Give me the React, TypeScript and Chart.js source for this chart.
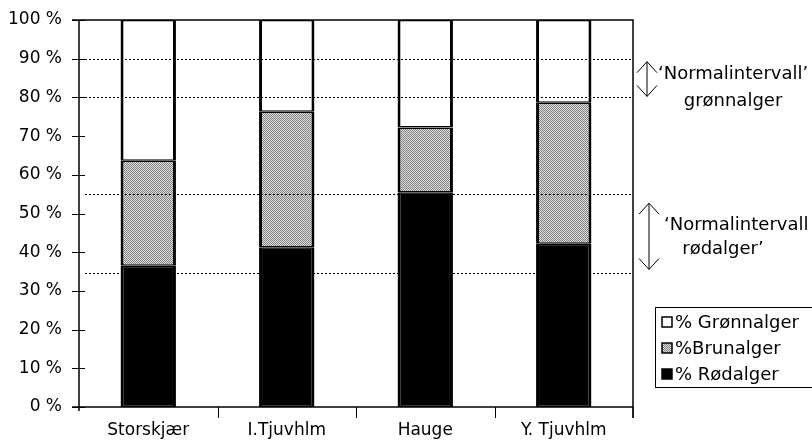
import React, { useEffect, useRef } from "react";
import { Chart, registerables } from "chart.js";

Chart.register(...registerables);

const categories = ["Storskjær", "I.Tjuvhlm", "Hauge", "Y. Tjuvhlm"];
const rodalger = [36.5, 41.3, 55.5, 42.2];
const brunalger = [27.1, 35.0, 16.7, 36.4];
const gronnalger = [36.4, 23.7, 27.8, 21.4];
const seriesLabels = ["% Grønnalger", "%Brunalger", "% Rødalger"];
const yMin = 0;
const yMax = 100;
const yStep = 10;
const normalGreen = [80, 90];
const normalRed = [34.5, 55];
const annotGreen = ["\u2018Normalintervall\u2019", "grønnalger"];
const annotRed = ["\u2018Normalintervall", "rødalger\u2019"];

const FONT = "'DejaVu Sans', sans-serif";

function makePattern(): CanvasPattern | string {
  const c = document.createElement("canvas");
  c.width = 2;
  c.height = 2;
  const g = c.getContext("2d");
  if (!g) return "#aaaaaa";
  g.fillStyle = "#e0e0e0";
  g.fillRect(0, 0, 2, 2);
  g.fillStyle = "#808080";
  g.fillRect(0, 0, 1, 1);
  g.fillRect(1, 1, 1, 1);
  const p = g.createPattern(c, "repeat");
  return p || "#aaaaaa";
}

function arrow(ctx: CanvasRenderingContext2D, x: number, y1: number, y2: number) {
  ctx.beginPath();
  ctx.moveTo(x, y1);
  ctx.lineTo(x, y2);
  ctx.moveTo(x - 10, y1 + 11);
  ctx.lineTo(x, y1);
  ctx.lineTo(x + 10, y1 + 11);
  ctx.moveTo(x - 10, y2 - 11);
  ctx.lineTo(x, y2);
  ctx.lineTo(x + 10, y2 - 11);
  ctx.stroke();
}

export default function App() {
  const ref = useRef<HTMLCanvasElement | null>(null);

  useEffect(() => {
    document.body.style.margin = "0";
    const canvas = ref.current;
    if (!canvas) return;
    const brownFill = makePattern();

    const decor = {
      id: "decor",
      afterDatasetsDraw(chart: any) {
        const ctx = chart.ctx as CanvasRenderingContext2D;
        const { left, right, top, bottom } = chart.chartArea;
        const ys = chart.scales.y;
        const xs = chart.scales.x;
        ctx.save();
        ctx.strokeStyle = "#000";
        ctx.lineWidth = 1;
        ctx.setLineDash([2, 2]);
        [...normalGreen, ...normalRed].forEach((v) => {
          const y = Math.round(ys.getPixelForValue(v)) + 0.5;
          ctx.beginPath();
          ctx.moveTo(left + 6, y);
          ctx.lineTo(right, y);
          ctx.stroke();
        });
        ctx.setLineDash([]);
        ctx.lineWidth = 1.5;
        ctx.beginPath();
        ctx.moveTo(left - 7, top);
        ctx.lineTo(right, top);
        ctx.lineTo(right, bottom + 11);
        ctx.stroke();
        ctx.beginPath();
        ctx.moveTo(left, top);
        ctx.lineTo(left, bottom + 4);
        ctx.moveTo(left - 7, bottom);
        ctx.lineTo(right, bottom);
        ctx.stroke();
        ctx.lineWidth = 1;
        for (let v = yMin; v <= yMax; v += yStep) {
          const y = Math.round(ys.getPixelForValue(v)) + 0.5;
          ctx.beginPath();
          ctx.moveTo(left - 7, y);
          ctx.lineTo(left + 6, y);
          ctx.stroke();
        }
        const n = categories.length;
        for (let i = 1; i <= n; i++) {
          const x =
            i < n
              ? Math.round((xs.getPixelForValue(i - 1) + xs.getPixelForValue(i)) / 2) + 0.5
              : right;
          ctx.beginPath();
          ctx.moveTo(x, bottom);
          ctx.lineTo(x, bottom + 11);
          ctx.stroke();
        }
        ctx.restore();
      },
      afterDraw(chart: any) {
        const ctx = chart.ctx as CanvasRenderingContext2D;
        const ys = chart.scales.y;
        ctx.save();
        ctx.fillStyle = "#000";
        ctx.strokeStyle = "#000";
        ctx.lineWidth = 1;
        ctx.font = `18px ${FONT}`;
        ctx.textBaseline = "middle";
        const gTop = ys.getPixelForValue(normalGreen[1]) + 3;
        const gBot = ys.getPixelForValue(normalGreen[0]) - 1;
        arrow(ctx, 647, gTop, gBot);
        ctx.textAlign = "left";
        ctx.fillText(annotGreen[0], 658, 74);
        ctx.textAlign = "center";
        ctx.fillText(annotGreen[1], 733, 101);
        const rTop = ys.getPixelForValue(normalRed[1]) + 9;
        const rBot = ys.getPixelForValue(normalRed[0]) - 4;
        arrow(ctx, 649, rTop, rBot);
        ctx.textAlign = "left";
        ctx.fillText(annotRed[0], 664, 225);
        ctx.textAlign = "center";
        ctx.fillText(annotRed[1], 723, 249);
        ctx.lineWidth = 1;
        ctx.strokeRect(655.5, 307.5, 170, 80);
        const fills: (string | CanvasPattern)[] = ["#ffffff", brownFill, "#000000"];
        const ysL = [322, 348, 374];
        ctx.textAlign = "left";
        seriesLabels.forEach((lab, i) => {
          ctx.fillStyle = fills[i] as any;
          ctx.fillRect(662, ysL[i] - 5, 10, 10);
          ctx.strokeStyle = "#000";
          ctx.lineWidth = 1.5;
          ctx.strokeRect(662, ysL[i] - 5, 10, 10);
          ctx.fillStyle = "#000";
          ctx.fillText(lab, 675, ysL[i] + 1);
        });
        ctx.restore();
      },
    };

    const bw = { top: 1.5, bottom: 1.5, left: 3, right: 3 };

    const chart = new Chart(canvas, {
      type: "bar",
      data: {
        labels: categories,
        datasets: [
          {
            label: seriesLabels[2],
            data: rodalger,
            backgroundColor: "#000000",
            borderColor: "#000000",
            borderWidth: bw,
            borderSkipped: false,
          },
          {
            label: seriesLabels[1],
            data: brunalger,
            backgroundColor: brownFill as any,
            borderColor: "#000000",
            borderWidth: bw,
            borderSkipped: false,
          },
          {
            label: seriesLabels[0],
            data: gronnalger,
            backgroundColor: "#ffffff",
            borderColor: "#000000",
            borderWidth: bw,
            borderSkipped: false,
          },
        ],
      },
      options: {
        responsive: false,
        animation: false,
        events: [],
        layout: { padding: { top: 20, right: 179, left: 0, bottom: 0 } },
        datasets: { bar: { categoryPercentage: 1, barPercentage: 0.4 } },
        plugins: { legend: { display: false }, tooltip: { enabled: false } },
        scales: {
          x: {
            stacked: true,
            grid: { display: false, drawTicks: false },
            border: { display: false },
            ticks: { color: "#000", font: { family: FONT, size: 17 }, padding: 13, maxRotation: 0 },
            afterFit: (s: any) => {
              s.height = 37;
              s.paddingLeft = 0;
              s.paddingRight = 0;
            },
          },
          y: {
            stacked: true,
            min: yMin,
            max: yMax,
            grid: { display: false, drawTicks: false },
            border: { display: false },
            ticks: {
              stepSize: yStep,
              color: "#000",
              font: { family: FONT, size: 17 },
              padding: 17,
              callback: (v: any) => `${v} %`,
            },
            afterFit: (s: any) => {
              s.width = 79;
              s.paddingTop = 0;
              s.paddingBottom = 0;
            },
          },
        },
      },
      plugins: [decor],
    });
    return () => chart.destroy();
  }, []);

  return (
    <div style={{ width: 812, height: 444, background: "#fff" }}>
      <canvas ref={ref} width={812} height={444} style={{ display: "block" }} />
    </div>
  );
}
